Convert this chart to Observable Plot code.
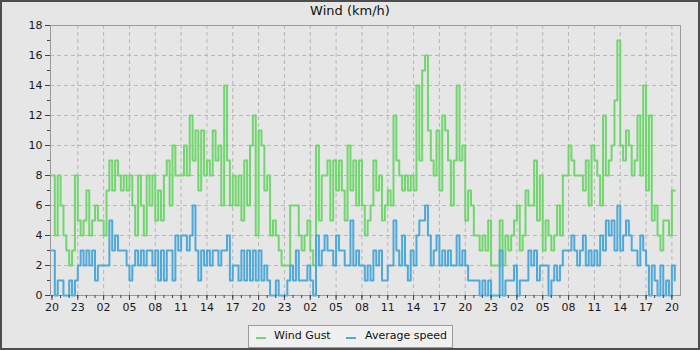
<!DOCTYPE html>
<html><head><meta charset="utf-8">
<script src="https://cdn.jsdelivr.net/npm/d3@7"></script>
<script src="https://cdn.jsdelivr.net/npm/@observablehq/plot@0.6"></script>
<style>
html,body{margin:0;padding:0;background:#e6e6e6;}
#wrap{position:relative;width:700px;height:350px;background:#e6e6e6;font-family:"DejaVu Sans",sans-serif;overflow:hidden;}
#title{position:absolute;left:0;top:3px;width:700px;text-align:center;font-size:13px;color:#111;}
#chart{position:absolute;left:0;top:0;}
#legend{position:absolute;left:248px;top:325px;width:203px;height:21px;border:1px solid #9a9a9a;background:#f0f0f0;font-size:11px;color:#111;white-space:nowrap;}
#legend .sw{position:absolute;top:11px;width:10px;height:2px;}
#legend .lb{position:absolute;top:3px;}
#border{position:absolute;left:0;top:0;width:700px;height:350px;box-sizing:border-box;border:2px solid #4d4d4d;pointer-events:none;}
</style>
</head><body>
<div id="wrap">
  <div id="chart"></div>
  <div id="title">Wind (km/h)</div>
  <div id="legend">
    <span class="sw" style="left:7px;background:#72d66f"></span><span class="lb" style="left:25px">Wind Gust</span>
    <span class="sw" style="left:97px;background:#4fa9d8"></span><span class="lb" style="left:116px">Average speed</span>
  </div>
  <div id="border"></div>
</div>
<script>
// sampling interval (hours) of the readings, starting at 20:00
const STEP_H = 1/3;
const gust = [
  8,4,8,6,4,3,2,3,8,5,
  4,5,7,4,5,6,5,5,4,7,
  9,7,9,8,7,8,7,8,6,4,
  8,6,4,8,6,8,5,7,5,8,
  9,6,10,8,8,8,10,8,12,9,
  11,7,11,8,9,8,11,9,10,6,
  14,9,6,8,6,8,5,9,6,10,
  12,4,11,10,7,8,4,5,4,3,
  2,2,2,6,6,6,4,3,4,5,
  3,2,10,5,8,8,9,5,9,7,
  9,7,5,10,7,9,6,9,6,4,
  5,6,9,7,8,5,6,7,6,12,
  9,8,7,8,7,8,7,14,9,15,
  16,11,9,8,11,7,12,11,9,6,
  9,14,9,10,5,7,6,4,4,3,
  4,3,5,2,2,2,5,2,4,3,
  4,5,6,3,4,7,6,6,9,5,
  8,3,5,4,3,4,6,4,8,8,
  10,9,8,8,8,7,9,6,10,9,
  8,6,12,8,9,10,13,17,10,9,
  11,10,8,9,12,8,14,7,12,5,
  6,4,3,5,5,4,7,7
];
const avg = [
  3,0,1,1,0,0,1,0,1,2,
  3,2,3,2,3,1,2,2,2,2,
  5,3,4,3,3,3,2,1,2,3,
  2,3,2,3,3,2,3,1,3,1,
  3,3,1,4,3,4,4,3,4,6,
  3,1,3,2,3,2,3,3,2,3,
  3,4,1,2,2,1,3,1,3,1,
  3,1,3,1,2,1,0,0,1,0,
  0,0,1,2,1,3,1,1,1,2,
  1,0,4,2,3,4,3,3,2,4,
  3,3,2,2,5,2,3,2,2,1,
  2,1,3,2,3,1,1,2,2,5,
  3,2,4,2,1,3,2,4,5,5,
  6,4,2,3,4,2,3,2,3,2,
  2,4,2,3,2,1,1,1,1,0,
  1,0,1,0,0,0,3,0,1,1,
  1,2,0,1,1,1,3,2,3,1,
  2,2,2,0,1,2,1,2,3,3,
  3,4,3,2,3,4,2,3,2,3,
  2,4,3,5,4,5,3,6,3,4,
  5,4,3,3,2,4,3,2,0,2,
  1,0,2,0,1,0,2,1
];
const tickLabels = ["20","23","02","05","08","11","14","17",
                    "20","23","02","05","08","11","14","17",
                    "20","23","02","05","08","11","14","17","20"];
const yTickValues = [0,2,4,6,8,10,12,14,16,18];

const tickHours = tickLabels.map((_, k) => 3 * k);
const minorHours = d3.range(0, 73);
const yMinor = d3.range(0, 19);
const data = gust.map((g, i) => ({t: i * STEP_H, gust: g, avg: avg[i]}));

const chart = Plot.plot({
  width: 700, height: 322,
  marginLeft: 50, marginRight: 20, marginTop: 25, marginBottom: 27,
  style: {background: "transparent", fontFamily: "DejaVu Sans", fontSize: "11px", color: "#1a1a1a"},
  x: {domain: [-0.17, 73.0]},
  y: {domain: [0, 18]},
  marks: [
    Plot.ruleY(yTickValues.slice(1, -1), {stroke: "#b8b8b8", strokeDasharray: "4,3", strokeWidth: 1}),
    Plot.ruleX(tickHours.slice(1), {stroke: "#b8b8b8", strokeDasharray: "4,3", strokeWidth: 1}),
    Plot.line(data, {x: "t", y: "gust", curve: "step-after", stroke: "#72d66f", strokeWidth: 2}),
    Plot.line(data, {x: "t", y: "avg", curve: "step-after", stroke: "#4fa9d8", strokeWidth: 2}),
    Plot.frame({stroke: "#9a9a9a"}),
    Plot.axisY({ticks: yTickValues, tickSize: 5, tickPadding: 3, label: null, stroke: "#444"}),
    Plot.axisY({ticks: yMinor, tickSize: 3, tickFormat: () => "", label: null, stroke: "#444"}),
    Plot.axisX({ticks: tickHours, tickSize: 5, tickPadding: 3, label: null, stroke: "#444",
                tickFormat: d => tickLabels[Math.round(d / 3)]}),
    Plot.axisX({ticks: minorHours, tickSize: 3, tickFormat: () => "", label: null, stroke: "#444"})
  ]
});
document.getElementById("chart").appendChild(chart);
</script>
</body></html>
